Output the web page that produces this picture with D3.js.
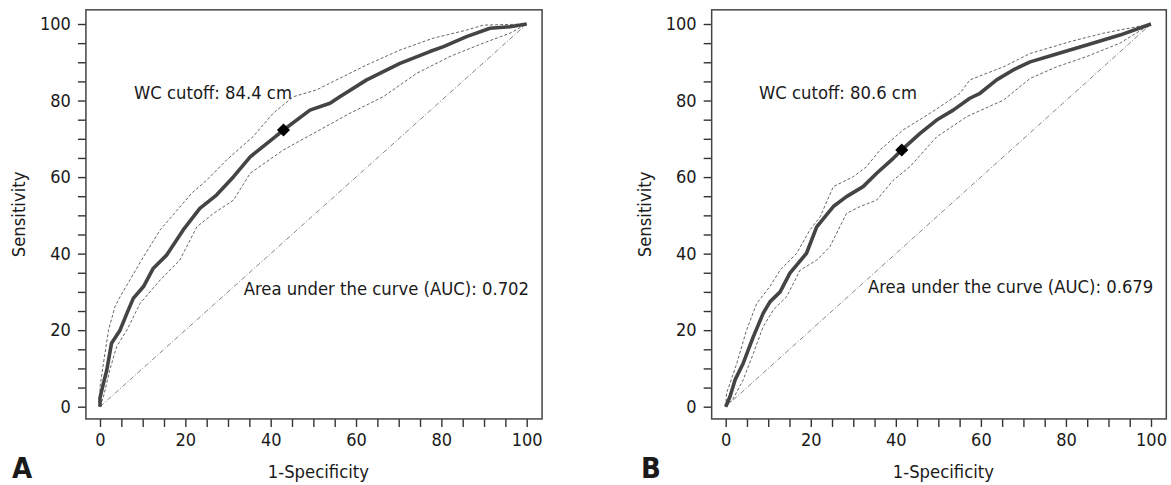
<!DOCTYPE html>
<html>
<head>
<meta charset="utf-8">
<script src="https://cdn.jsdelivr.net/npm/d3@7"></script>
<style>
  body { margin: 0; background: #fff; }
  text { font-family: "Liberation Sans Narrow", "DejaVu Sans Condensed", "Roboto", sans-serif; fill: #1a1a1a; }
</style>
</head>
<body>
<svg id="chart" width="1171" height="485"></svg>
<script>
const ticks = d3.range(0, 101, 5)

// panel A, [1-specificity, sensitivity] in %
const rocA = [[0,0],[0,2.3],[0.8,6.1],[1.6,9.6],[2.7,16.6],[4.7,20],[6.3,24.4],[7.8,28.3],[10.2,31.4],[12.5,36.2],[15.6,39.6],[19.5,46.2],[23.4,51.8],[27.3,55.3],[31.3,60.1],[35.2,65.3],[40.6,70.1],[43,72.3],[49.2,77.5],[53.9,79.3],[56.2,81],[62.5,85.4],[70.3,89.7],[77.3,92.8],[80.5,94.1],[85.9,96.7],[91.4,98.9],[96.1,99.3],[100,100]]
const upperA = [[0,0],[0,5.2],[0.8,11.3],[2,20],[3.5,26.1],[4.7,28.7],[7,33.1],[10.2,39.2],[14.1,46.2],[21.5,55.8],[25,59.2],[29.7,64.5],[35.9,70.6],[40.6,76.7],[45.3,81],[50.8,82.8],[54.7,85],[62.5,89.3],[70.3,93.2],[78.1,96.3],[85.9,98.4],[89.8,99.7],[100,100]]
const lowerA = [[0,0],[0.8,2.6],[2.3,9.6],[3.9,15.7],[6.3,20],[9.4,27],[14.1,33.1],[18.7,38.3],[22.7,47],[26.6,50.5],[31.3,54],[35.2,61],[43,67.1],[50.8,71.9],[58.6,76.7],[66.4,81],[74.2,87.1],[82,91.5],[89.8,95],[96.1,97.6],[100,100]]
const cutA = [43, 72.3]

// panel B
const rocB = [[0,0],[1,2.6],[2.2,7],[4.1,11.3],[6.5,18.3],[8.8,24.4],[10.4,27.4],[12.8,30],[15.1,34.9],[19,40.1],[21.4,47],[25.3,52.3],[28.4,54.9],[32.3,57.5],[35.5,61],[39.4,64.9],[41.4,67.1],[45.7,71.4],[49.6,74.9],[53.5,77.5],[57.4,80.6],[59.8,81.9],[63.7,85.4],[67.6,88],[71.6,90.1],[77,91.9],[84.9,94.5],[92.7,97.1],[100,100]]
const upperB = [[0,0],[0.2,3.5],[2.6,11.3],[4.9,20],[7.3,27],[10.4,31.4],[12.8,35.7],[16.7,40.1],[19.8,46.2],[22.2,49.6],[25.3,57.5],[30,60.1],[33.1,62.7],[36.3,67.1],[41.7,72.3],[48.1,76.7],[55.1,81.9],[57.4,85.4],[65.3,88.8],[71.6,92.3],[81,95.4],[88.8,97.6],[100,100]]
const lowerB = [[0,0],[1.8,2.2],[4.1,7],[6.5,13.9],[8.8,20.9],[11.2,25.3],[14.3,28.7],[17.5,35.7],[21.4,38.3],[24.5,41.8],[28.4,50.5],[31.6,52.3],[35.5,54],[39.4,59.2],[43.3,62.7],[49.6,70.5],[56.7,75.8],[65.3,80.1],[71.6,85.8],[77.8,88.8],[84.9,91.5],[92.7,95],[100,100]]
const cutB = [41.4, 67.1]

const diagonal = [[0,0],[100,100]]

const svg = d3.select("#chart")

function drawPanel(opts) {
  const x = d3.scaleLinear().domain([0, 100]).range([opts.x0, opts.x1])
  const y = d3.scaleLinear().domain([0, 100]).range([406.7, 24])
  const left = x(-3.3), right = x(103.6), top = y(103.7), bottom = y(-3.2)

  const g = svg.append("g")

  const yAxis = g.append("g")
    .attr("transform", `translate(${left},0)`)
    .call(d3.axisLeft(y).tickValues(ticks).tickSize(8).tickPadding(7)
      .tickFormat(d => d % 20 === 0 ? d : ""))
  const xAxis = g.append("g")
    .attr("transform", `translate(0,${bottom})`)
    .call(d3.axisBottom(x).tickValues(ticks).tickSize(8).tickPadding(6)
      .tickFormat(d => d % 20 === 0 ? d : ""))
  for (const ax of [xAxis, yAxis]) {
    ax.select(".domain").remove()
    ax.selectAll("line").attr("stroke", "#333").attr("stroke-width", 1.4)
    ax.selectAll("text").attr("font-size", 18).style("fill", "#1a1a1a")
  }

  const line = d3.line().x(d => x(d[0])).y(d => y(d[1]))

  g.append("path").attr("d", line(diagonal))
    .attr("fill", "none").attr("stroke", "#777").attr("stroke-width", 0.9)
    .attr("stroke-dasharray", "5,2,1,2")
  for (const ci of [opts.upper, opts.lower]) {
    g.append("path").attr("d", line(ci))
      .attr("fill", "none").attr("stroke", "#555").attr("stroke-width", 0.9)
      .attr("stroke-dasharray", "3,2")
  }
  g.append("path").attr("d", line(opts.roc))
    .attr("fill", "none").attr("stroke", "#444").attr("stroke-width", 3.6)
    .attr("stroke-linejoin", "round")

  g.append("path")
    .attr("d", d3.symbol(d3.symbolSquare, 85)())
    .attr("transform", `translate(${x(opts.cut[0])},${y(opts.cut[1])}) rotate(45)`)
    .attr("fill", "#000")

  g.append("rect")
    .attr("x", left).attr("y", top)
    .attr("width", right - left).attr("height", bottom - top)
    .attr("fill", "none").attr("stroke", "#444").attr("stroke-width", 1.5)

  g.append("text").attr("x", opts.cutX).attr("y", 99)
    .attr("font-size", 18.3).text(opts.cutText)
  g.append("text").attr("x", right - 13).attr("y", opts.aucY)
    .attr("text-anchor", "end").attr("font-size", 18.3).text(opts.aucText)

  g.append("text")
    .attr("transform", `translate(${opts.yLabelX},${(top + bottom) / 2}) rotate(-90)`)
    .attr("text-anchor", "middle").attr("font-size", 18.3).text("Sensitivity")
  g.append("text").attr("x", x(50) + 5).attr("y", 478)
    .attr("text-anchor", "middle").attr("font-size", 18.3).text("1-Specificity")
  g.append("text").attr("x", opts.letterX).attr("y", 478)
    .attr("font-size", 29).attr("font-weight", "bold").text(opts.letter)
}

drawPanel({
  x0: 100, x1: 526.7, roc: rocA, upper: upperA, lower: lowerA, cut: cutA,
  cutText: "WC cutoff: 84.4 cm", cutX: 134, aucText: "Area under the curve (AUC): 0.702",
  aucY: 295, yLabelX: 25, letter: "A", letterX: 12
})
drawPanel({
  x0: 725.7, x1: 1151, roc: rocB, upper: upperB, lower: lowerB, cut: cutB,
  cutText: "WC cutoff: 80.6 cm", cutX: 759, aucText: "Area under the curve (AUC): 0.679",
  aucY: 293, yLabelX: 651, letter: "B", letterX: 641
})
</script>
</body>
</html>
